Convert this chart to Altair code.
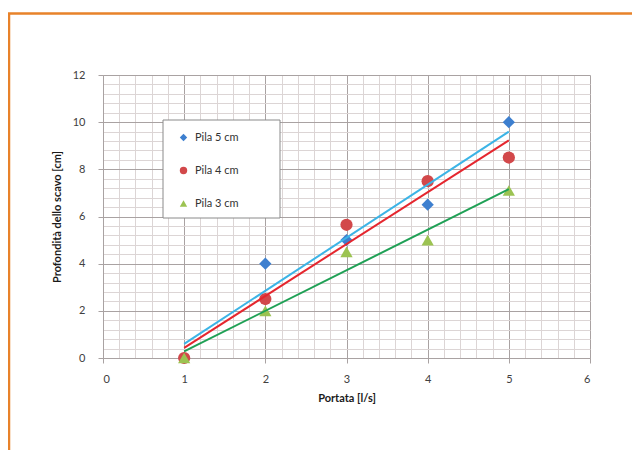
import altair as alt
import pandas as pd

# ---- data ----
x_vals = [1, 2, 3, 4, 5]
pila5 = [0, 4, 5, 6.5, 10]
pila4 = [0, 2.5, 5.65, 7.5, 8.5]
pila3 = [0, 2, 4.5, 5, 7.1]
series_names = ["Pila 5 cm", "Pila 4 cm", "Pila 3 cm"]

# ---- styles ----
marker_colors = ["#3d7fcf", "#d2484a", "#9cc352"]
trend_colors = ["#3cb4e6", "#e5262e", "#1fa055"]
shapes = ["diamond", "circle", "triangle-up"]

x_grid = [round(i * 0.2, 1) for i in range(31)]
y_grid = [round(i * 0.4, 1) for i in range(31)]

rows = []
for name, ys in zip(series_names, [pila5, pila4, pila3]):
    for xv, yv in zip(x_vals, ys):
        rows.append({"x": xv, "y": yv, "series": name})
df = pd.DataFrame(rows)

FONT = "Lato"
MAJOR = "#a9a2a2"
MINOR = "#dcd5d5"

X = alt.X(
    "x:Q",
    scale=alt.Scale(domain=[0, 6], nice=False, zero=False),
    axis=alt.Axis(
        values=x_grid,
        title="Portata [l/s]",
        labelExpr="datum.value % 1 === 0 ? format(datum.value, 'd') : ''",
        labelOverlap=False,
        gridColor={"condition": {"test": "datum.value % 1 === 0", "value": MAJOR}, "value": MINOR},
        tickOpacity={"condition": {"test": "datum.value % 1 === 0", "value": 1}, "value": 0},
        tickColor=MAJOR,
        tickSize=5,
        domainColor=MAJOR,
        labelPadding=10,
        titlePadding=8,
    ),
)
Y = alt.Y(
    "y:Q",
    scale=alt.Scale(domain=[0, 12], nice=False),
    axis=alt.Axis(
        values=y_grid,
        title="Profondità dello scavo [cm]",
        labelExpr="datum.value % 2 === 0 ? format(datum.value, 'd') : ''",
        labelOverlap=False,
        gridColor={"condition": {"test": "datum.value % 2 === 0", "value": MAJOR}, "value": MINOR},
        tickOpacity={"condition": {"test": "datum.value % 2 === 0", "value": 1}, "value": 0},
        tickColor=MAJOR,
        tickSize=5,
        domainColor=MAJOR,
        labelPadding=13,
        titlePadding=10,
    ),
)

base = alt.Chart(df)

legend = alt.Legend(
    title=None,
    orient="none",
    legendX=75,
    legendY=57,
    padding=0,
    rowPadding=21,
    labelOffset=6,
    symbolSize=55,
    labelFontSize=11,
    labelFont=FONT,
    labelColor="#333333",
    strokeColor="transparent",
)

points = base.mark_point(filled=True, opacity=1, size=150).encode(
    x=X,
    y=Y,
    color=alt.Color("series:N", scale=alt.Scale(domain=series_names, range=marker_colors), legend=legend),
    shape=alt.Shape("series:N", scale=alt.Scale(domain=series_names, range=shapes), legend=legend),
    order=alt.Order("order:Q"),
).transform_calculate(order="indexof(%s, datum.series)" % str(series_names))

trends = []
for name, col in zip(series_names, trend_colors):
    trends.append(
        base.transform_filter(alt.datum.series == name)
        .transform_regression("x", "y")
        .mark_line(color=col, strokeWidth=2)
        .encode(x=X, y=Y)
    )

one = alt.Data(values=[{"k": 1}])
legend_box = alt.Chart(one).mark_rect(fill="white", stroke="#8a8a8a", strokeWidth=1).encode(
    x=alt.value(60), x2=alt.value(177), y=alt.value(45), y2=alt.value(143)
)
frame = alt.Chart(one).mark_rect(fill="transparent", stroke="#e8822a", strokeWidth=2.5).encode(
    x=alt.value(-94), x2=alt.value(560), y=alt.value(-61.5), y2=alt.value(420)
)

chart = alt.layer(legend_box, points, *trends, frame).properties(
    width=487,
    height=283,
    autosize=alt.AutoSizeParams(type="none"),
    padding={"left": 95, "top": 67, "right": 42, "bottom": 92},
).configure_view(stroke=None).configure_axis(
    labelFont=FONT,
    labelFontSize=11,
    labelColor="#404040",
    titleFont=FONT,
    titleFontSize=11,
    titleFontWeight="bold",
    titleColor="#1a1a1a",
    gridWidth=1,
    gridOpacity=1,
)

chart.save("out.html", embed_options={"renderer": "svg", "actions": False})
